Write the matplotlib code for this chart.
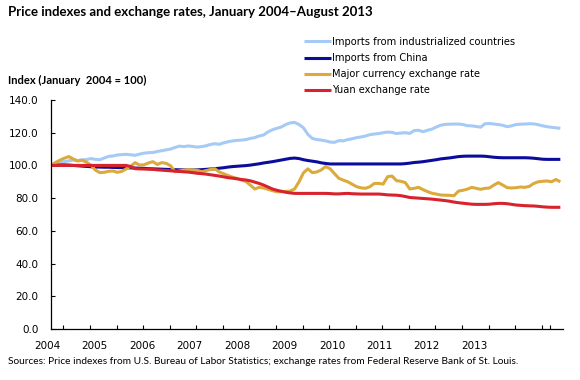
import matplotlib
matplotlib.use("Agg")
import matplotlib.pyplot as plt
import matplotlib.transforms as mtransforms
import numpy as np

# monthly values, Jan 2004 - Aug 2013 (index, Jan 2004 = 100)
industrialized = [
    100.0, 100.8, 101.6, 102.3, 102.8, 103.3, 103.0, 103.4, 103.6, 104.2, 103.7, 103.5,
    104.5, 105.5, 105.8, 106.4, 106.6, 106.8, 106.5, 106.2, 106.9, 107.5, 107.8, 107.9,
    108.5, 109.0, 109.5, 110.0, 111.0, 111.8, 111.5, 111.9, 111.6, 111.2, 111.5, 112.0,
    112.8, 113.3, 112.9, 113.8, 114.5, 115.0, 115.3, 115.5, 115.8, 116.5, 117.0, 118.0,
    118.6, 120.5, 121.8, 122.7, 123.5, 125.0, 126.0, 126.3, 125.0, 123.0, 119.0, 116.5,
    115.8, 115.5, 115.0, 114.3, 114.1, 115.2, 115.0, 115.8, 116.3, 117.0, 117.4, 118.0,
    118.8, 119.2, 119.5, 120.0, 120.4, 120.2, 119.5, 119.8, 120.0, 119.6, 121.3, 121.5,
    120.6, 121.5, 122.2, 123.5, 124.6, 125.1, 125.2, 125.3, 125.3, 125.0, 124.3, 124.2,
    123.8, 123.4, 125.5, 125.6, 125.3, 125.0, 124.5, 123.7, 124.2, 125.0, 125.2, 125.3,
    125.5, 125.4, 124.9, 124.2, 123.7, 123.3, 123.0, 122.7,
]
china = [
    100.0, 100.1, 100.2, 100.3, 100.2, 100.0, 99.8, 99.6, 99.4, 99.2, 99.0, 99.0,
    98.9, 98.9, 98.8, 98.7, 98.7, 98.6, 98.5, 98.4, 98.3, 98.2, 98.0, 97.9,
    97.8, 97.7, 97.6, 97.5, 97.4, 97.3, 97.3, 97.2, 97.2, 97.3, 97.4, 97.6,
    97.8, 98.0, 98.3, 98.6, 99.0, 99.3, 99.5, 99.7, 99.9, 100.2, 100.6, 101.0,
    101.5, 101.9, 102.3, 102.8, 103.3, 103.8, 104.3, 104.5, 104.2, 103.5, 103.0, 102.6,
    102.2, 101.6, 101.2, 100.9, 100.9, 100.9, 100.9, 100.9, 100.9, 100.9, 100.9, 100.9,
    100.9, 100.9, 100.9, 100.9, 100.9, 100.9, 100.9, 100.9, 101.1, 101.4, 101.8, 102.0,
    102.3, 102.7, 103.1, 103.5, 104.0, 104.3, 104.6, 105.0, 105.4, 105.6, 105.7, 105.7,
    105.7, 105.7, 105.6, 105.3, 105.0, 104.8, 104.7, 104.7, 104.7, 104.7, 104.7, 104.7,
    104.6, 104.4, 104.1, 103.8, 103.7, 103.7, 103.7, 103.7,
]
major_fx = [
    100.0, 101.8, 103.2, 104.4, 105.4, 104.0, 102.7, 103.2, 102.0, 100.2, 97.2, 95.6,
    95.8, 96.4, 96.6, 95.8, 96.4, 97.9, 99.5, 101.7, 100.2, 100.4, 101.5, 102.3,
    100.6, 101.7, 101.3, 99.8, 96.2, 96.6, 97.2, 97.4, 97.2, 97.0, 96.2, 96.8,
    97.5, 97.9, 96.0, 94.9, 93.8, 92.8, 92.1, 91.0, 90.2, 88.0, 85.6, 86.6,
    86.2, 85.4, 84.6, 83.9, 83.9, 84.1, 84.3, 85.6, 90.0, 95.5, 97.9, 95.6,
    96.0, 97.2, 99.3, 98.0, 95.0, 92.1, 91.0, 90.0, 88.5, 87.0, 86.3, 86.0,
    87.0, 89.0, 89.0, 88.6, 93.1, 93.5, 90.7, 90.3, 89.5, 85.6, 86.0, 86.6,
    85.2, 84.0, 83.0, 82.5, 81.9, 81.8, 81.7, 81.5, 84.3, 84.8, 85.5, 86.6,
    86.0, 85.4, 86.0, 86.2, 88.0, 89.5, 88.0, 86.4, 86.2, 86.4, 86.8, 86.6,
    87.2, 89.0, 90.0, 90.3, 90.5, 90.0, 91.4, 90.0,
]
yuan = [
    100.0, 100.0, 100.0, 100.0, 100.0, 100.0, 100.0, 100.0, 100.0, 100.0, 100.0, 100.0,
    100.0, 100.0, 100.0, 100.0, 100.0, 100.0, 99.3, 98.0, 97.9, 97.8, 97.7, 97.6,
    97.3, 97.1, 96.9, 96.7, 96.5, 96.3, 96.1, 95.9, 95.6, 95.2, 95.0, 94.7,
    94.3, 93.9, 93.5, 93.0, 92.5, 92.2, 91.8, 91.4, 91.1, 90.6, 89.8, 89.0,
    88.0, 86.8, 85.6, 84.8, 84.2, 83.6, 83.2, 82.9, 82.9, 82.9, 82.9, 82.9,
    82.9, 82.9, 82.9, 82.8, 82.6, 82.6, 82.8, 82.9, 82.7, 82.6, 82.5, 82.5,
    82.5, 82.5, 82.5, 82.3, 82.0, 81.9, 81.8, 81.5, 81.0, 80.4, 80.2, 80.0,
    79.8, 79.6, 79.4, 79.1, 78.8, 78.5, 78.1, 77.6, 77.2, 76.9, 76.6, 76.3,
    76.2, 76.2, 76.2, 76.3, 76.6, 76.8, 76.8, 76.6, 76.2, 75.8, 75.6, 75.4,
    75.3, 75.2, 75.0, 74.7, 74.5, 74.4, 74.4, 74.4,
]
years = ['2004', '2005', '2006', '2007', '2008', '2009', '2010', '2011', '2012', '2013']
series_names = ['Imports from industrialized countries', 'Imports from China',
                'Major currency exchange rate', 'Yuan exchange rate']
colors = ['#a6caf6', '#0c0c9c', '#dcaa3c', '#d8232e']

months = np.arange(len(yuan))

fig = plt.figure(figsize=(5.8, 3.8), dpi=100)
ax = fig.add_axes([51/580, 1-329/380, 512/580, 229/380])

for vals, name, c in zip([industrialized, china, major_fx, yuan], series_names, colors):
    ax.plot(months, vals, color=c, lw=2.2, label=name, solid_capstyle='butt')

ax.set_yticks(np.arange(0, 141, 20))
ax.set_yticklabels(['%.1f' % v for v in np.arange(0, 141, 20)])

# small tick marks every six months, no labels on them
ax.set_xticks([])
ax.set_xticks(list(2.8 + 6*np.arange(19)) + [112.7], minor=True)
ax.set_xlim(0, 115.6)
ax.set_ylim(0, 140)
ax.tick_params(axis='x', which='minor', direction='in', length=3, width=0.8)
ax.tick_params(axis='y', direction='in', length=3, width=0.8, pad=9, labelsize=7.5)

# year labels, spaced as in the original (slightly narrower than the data)
trans = mtransforms.blended_transform_factory(ax.transData, ax.transAxes)
for i, yr in enumerate(years):
    ax.text(-0.9 + 10.72*i, -0.074, yr, transform=trans, ha='center', va='center',
            fontsize=7.5, clip_on=False)

for s in ['top', 'right']:
    ax.spines[s].set_visible(False)
for s in ['left', 'bottom']:
    ax.spines[s].set_linewidth(0.9)

leg = fig.legend(loc='upper left', bbox_to_anchor=(300/580, 1-33/380), frameon=False,
                 fontsize=7.1, handlelength=2.7, handletextpad=0.15, labelspacing=0.62,
                 borderaxespad=0)

fig.text(8/580, 1-12/380, 'Price indexes and exchange rates, January 2004\u2013August 2013',
         fontsize=9.5, fontweight='bold', family='Lato', va='center', ha='left')
fig.text(8/580, 1-80/380, 'Index (January  2004 = 100)', fontsize=8.0, fontweight='bold',
         family='Lato', va='center', ha='left')
fig.text(8/580, 1-362/380, 'Sources: Price indexes from U.S. Bureau of Labor Statistics; '
         'exchange rates from Federal Reserve Bank of St. Louis.',
         fontsize=7.3, family='Lato', va='center', ha='left')

fig.savefig('out.png', dpi=100)
